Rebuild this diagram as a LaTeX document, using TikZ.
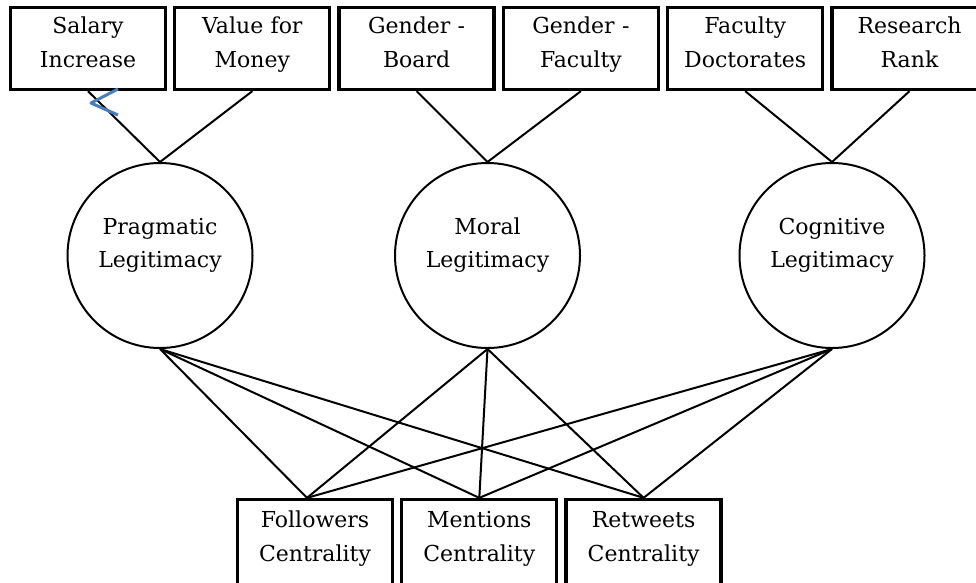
\documentclass[tikz,border=0pt]{standalone}
\usepackage{fontspec}
\setmainfont{DejaVu Serif}
\usetikzlibrary{positioning}
\tikzset{
  indicator/.style={ % boxes of the measured variables
	draw, rectangle, line width=3.3pt,
	minimum width=155pt, minimum height=82pt, % outer size about 158 x 85
	text width=150pt, align=center, inner sep=0pt,
	font=\fontsize{22}{34}\selectfont,
	execute at begin node={\rule{0pt}{20pt}}, % keeps the first baseline fixed
	execute at end node={\rule[-17pt]{0pt}{17pt}},
  },
  latent/.style={ % circles of the constructs
	draw, circle, line width=2pt, minimum size=185pt, inner sep=0pt,
  },
  latenttext/.style={align=center, font=\fontsize{22}{33}\selectfont},
  link/.style={line width=2pt},
}

\begin{document}
\begin{tikzpicture}[x=1pt, y=-1pt]
		\path [use as bounding box, clip] (0,0) rectangle (976,582);

		% Indicadores de arriba
		\node [indicator] (salary) at (88,48.5) {Salary\\Increase};
		\node [indicator, right=6pt of salary] (value) {Value for\\Money};
		\node [indicator, right=6pt of value] (gboard) {Gender -\\Board};
		\node [indicator, right=6pt of gboard] (gfac) {Gender -\\Faculty};
		\node [indicator, right=6pt of gfac] (fdoct) {Faculty\\Doctorates};
		\node [indicator, right=6pt of fdoct] (rrank) {Research\\Rank};

		% Constructos
		\node [latent] (prag) at (160,255.5) {};
		\node [latent] (moral) at (487.5,255.5) {};
		\node [latent] (cogn) at (832,255.5) {};
		\node [latenttext] (pragtxt) at ([yshift=10pt]prag.center) {Pragmatic\\Legitimacy};
		\node [latenttext] (moraltxt) at ([yshift=10pt]moral.center) {Moral\\Legitimacy};
		\node [latenttext] (cogntxt) at ([yshift=10pt]cogn.center) {Cognitive\\Legitimacy};

		% Indicadores de abajo
		\node [indicator, minimum height=86pt] (fol) at (315,542.5) {Followers\\Centrality};
		\node [indicator, minimum height=86pt, right=6pt of fol] (men) {Mentions\\Centrality};
		\node [indicator, minimum height=86pt, right=6pt of men] (ret) {Retweets\\Centrality};
		\coordinate (folin) at ([xshift=-8pt]fol.north);

		% Lineas de arriba
		\draw [link] (salary.south) -- (prag.north);
		\draw [link] (value.south) -- (prag.north);
		\draw [link] (gboard.south) -- (moral.north);
		\draw [link] (gfac.south) -- (moral.north);
		\draw [link] (fdoct.south) -- (cogn.north);
		\draw [link] (rrank.south) -- (cogn.north);

		% Lineas de abajo
		\draw [link] (prag.south) -- (folin);
		\draw [link] (prag.south) -- (men.north);
		\draw [link] (prag.south) -- (ret.north);
		\draw [link] (moral.south) -- (folin);
		\draw [link] (moral.south) -- (men.north);
		\draw [link] (moral.south) -- (ret.north);
		\draw [link] (cogn.south) -- (folin);
		\draw [link] (cogn.south) -- (men.north);
		\draw [link] (cogn.south) -- (ret.north);

		% Marca azul
		\draw [line width=3pt, draw={rgb,255:red,74;green,126;blue,187}, line join=round]
			(118,89) -- (91,103) -- (118,115);
\end{tikzpicture}
\end{document}
